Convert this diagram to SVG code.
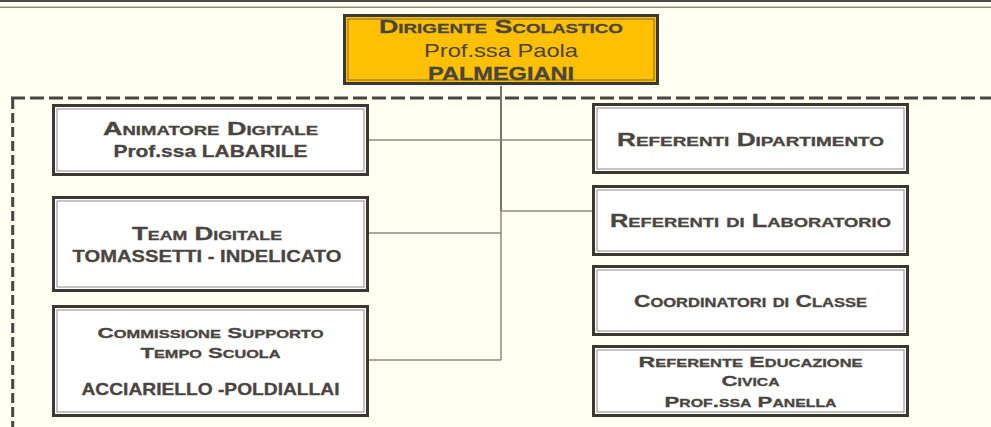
<svg xmlns="http://www.w3.org/2000/svg" width="991" height="427" viewBox="0 0 991 427">
<style>
.o{fill:#ffffff;stroke:#3b3733;stroke-width:3}
.i{fill:none;stroke:#8c8983;stroke-width:1}
.ot{fill:#ffc000;stroke:#3b3733;stroke-width:3}
.it{fill:none;stroke:#7a6a40;stroke-width:1}
text{font-family:"Liberation Sans",Arial,sans-serif;fill:#4a4541;text-anchor:middle}
.b{font-weight:bold;stroke:#4a4541;stroke-width:0.3}
.sc{font-weight:bold;font-variant:small-caps;stroke:#4a4541;stroke-width:0.3}
.c{fill:none;stroke:#8e8b80;stroke-width:1.5}
.cd{fill:none;stroke:#4a4541;stroke-width:1.5}
</style>
<rect width="991" height="427" fill="#fffff2"/>
<line x1="0" y1="1" x2="991" y2="1" stroke="#4f4a45" stroke-width="2"/>
<line x1="0" y1="7.3" x2="991" y2="7.3" stroke="#8f8c80" stroke-width="1.5"/>
<g id="frame">
<line x1="11" y1="98" x2="991" y2="98" stroke="#4a4541" stroke-width="3" stroke-dasharray="14 5"/>
<line x1="12.7" y1="99" x2="12.7" y2="427" stroke="#4a4541" stroke-width="3" stroke-dasharray="10 4"/>
</g>
<g id="connectors">
<path class="cd" d="M501,86 V211"/>
<path class="c" d="M501,211 V360"/>
<path class="c" d="M369,140 H592"/>
<path class="c" d="M501,211 H592"/>
<path class="c" d="M369,233 H501"/>
<path class="c" d="M369,360 H501"/>
</g>
<g id="dirigente">
<rect class="ot" x="344.5" y="15.5" width="313" height="68"/>
<rect class="it" x="348" y="19" width="306" height="61"/>
<text class="sc" x="501" y="33" font-size="18.5" textLength="244" lengthAdjust="spacingAndGlyphs">Dirigente Scolastico</text>
<text x="501" y="57" font-size="19" textLength="154" lengthAdjust="spacingAndGlyphs">Prof.ssa Paola</text>
<text class="b" x="501" y="80" font-size="18" textLength="146" lengthAdjust="spacingAndGlyphs">PALMEGIANI</text>
</g>
<g id="animatore">
<rect class="o" x="53.5" y="105.5" width="314" height="69"/>
<rect class="i" x="57" y="109" width="307" height="62"/>
<text class="sc" x="210.5" y="135" font-size="17.5" textLength="215" lengthAdjust="spacingAndGlyphs">Animatore Digitale</text>
<text class="b" x="210.5" y="157" font-size="17" textLength="194" lengthAdjust="spacingAndGlyphs">Prof.ssa LABARILE</text>
</g>
<g id="team">
<rect class="o" x="53.5" y="197.5" width="314" height="93"/>
<rect class="i" x="57" y="201" width="307" height="86"/>
<text class="sc" x="207" y="240" font-size="17.5" textLength="150" lengthAdjust="spacingAndGlyphs">Team Digitale</text>
<text class="b" x="207" y="262" font-size="17" textLength="269" lengthAdjust="spacingAndGlyphs">TOMASSETTI - INDELICATO</text>
</g>
<g id="commissione">
<rect class="o" x="53.5" y="306.5" width="314" height="109"/>
<rect class="i" x="57" y="310" width="307" height="102"/>
<text class="sc" x="210.5" y="338" font-size="15" textLength="226" lengthAdjust="spacingAndGlyphs">Commissione Supporto</text>
<text class="sc" x="210.5" y="358" font-size="15" textLength="140" lengthAdjust="spacingAndGlyphs">Tempo Scuola</text>
<text class="b" x="210.5" y="395" font-size="16.5" textLength="258" lengthAdjust="spacingAndGlyphs">ACCIARIELLO -POLDIALLAI</text>
</g>
<g id="dipartimento">
<rect class="o" x="593.5" y="104.5" width="314" height="68"/>
<rect class="i" x="597" y="108" width="307" height="61"/>
<text class="sc" x="750.5" y="146" font-size="18" textLength="267" lengthAdjust="spacingAndGlyphs">Referenti Dipartimento</text>
</g>
<g id="laboratorio">
<rect class="o" x="593.5" y="186.5" width="314" height="68"/>
<rect class="i" x="597" y="190" width="307" height="61"/>
<text class="sc" x="750.5" y="227" font-size="18" textLength="281" lengthAdjust="spacingAndGlyphs">Referenti di Laboratorio</text>
</g>
<g id="coordinatori">
<rect class="o" x="593.5" y="266.5" width="314" height="68"/>
<rect class="i" x="597" y="270" width="307" height="61"/>
<text class="sc" x="750.5" y="307" font-size="16.5" textLength="233" lengthAdjust="spacingAndGlyphs">Coordinatori di Classe</text>
</g>
<g id="educazione">
<rect class="o" x="593.5" y="346.5" width="314" height="69"/>
<rect class="i" x="597" y="350" width="307" height="62"/>
<text class="sc" x="750.5" y="367" font-size="15.5" textLength="224" lengthAdjust="spacingAndGlyphs">Referente Educazione</text>
<text class="sc" x="750.5" y="386" font-size="15.5" textLength="58" lengthAdjust="spacingAndGlyphs">Civica</text>
<text class="sc" x="750.5" y="407" font-size="15.5" textLength="172" lengthAdjust="spacingAndGlyphs">Prof.ssa Panella</text>
</g>
</svg>
